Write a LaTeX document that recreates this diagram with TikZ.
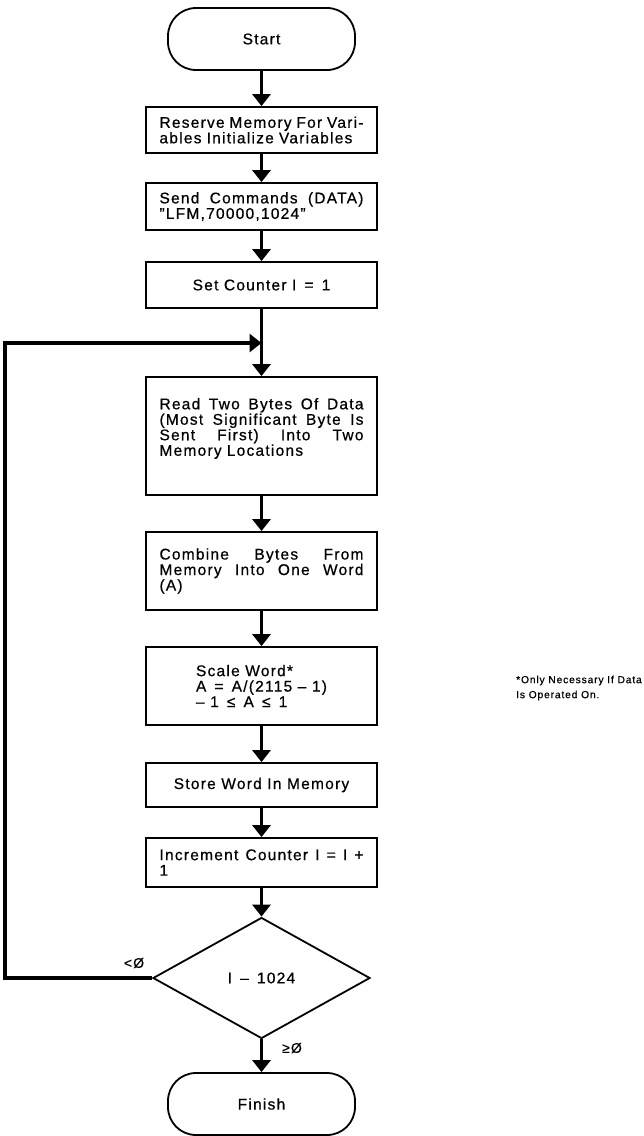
\documentclass[tikz,border=0pt]{standalone}
\usepackage{fontspec}
\setmainfont{Liberation Sans}[LetterSpace=8, FakeBold=0.6]
\usepackage{tikz}
\usetikzlibrary{arrows.meta, shapes.geometric}

% one stretched line of a justified box
\newcommand{\fullline}[1]{\makebox[204pt][s]{\spaceskip=0pt\xspaceskip=0pt #1}}

\begin{document}
\begin{tikzpicture}[x=1pt, y=-1pt,
    box/.style={draw, line width=1.8pt, minimum width=231pt, inner sep=0pt,
        font=\fontsize{15.5}{15.5}\selectfont},
    term/.style={draw, line width=1.8pt, rounded corners=28pt, minimum width=187pt,
        minimum height=62pt, font=\fontsize{15.5}{15.5}\selectfont},
    flow/.style={line width=3.8pt, -{Triangle[length=12pt, width=18pt]}},
    lbl/.style={font=\fontsize{14}{14}\selectfont, inner sep=0pt}]
    \useasboundingbox (0,0) rectangle (644,1136);

    % Terminals and boxes
    \node[term] (start) at (261.5,39) {Start};
    \node[box, minimum height=46pt, text width=204pt, align=left] (reserve) at (261.5,130)
        {\fullline{Reserve Memory For Vari-}\\ables Initialize Variables};
    \node[box, minimum height=47pt, text width=204pt, align=left] (send) at (261.5,206.5)
        {\fullline{Send Commands (DATA)}\\''LFM,70000,1024''};
    \node[box, minimum height=46pt] (setc) at (261.5,285) {Set Counter I \,=\, 1};
    \node[box, minimum height=118pt, text width=204pt, align=left] (readw) at (261.5,436)
        {\fullline{Read Two Bytes Of Data}\\\fullline{(Most Significant Byte Is}\\
         \fullline{Sent First) Into Two}\\Memory Locations\\\rule{0pt}{14pt}};
    \node[box, minimum height=78pt, text width=204pt, align=left] (combine) at (261.5,571)
        {\fullline{Combine Bytes From}\\\fullline{Memory Into One Word}\\(A)};
    \node[box, minimum height=78pt, align=left] (scale) at (261.5,686)
        {Scale Word*\\A \,=\, A/(2115 -- 1)\\-- 1 \,≤\, A \,≤\, 1};
    \node[box, minimum height=44pt] (store) at (261.5,785) {Store Word In Memory};
    \node[box, minimum height=49pt, text width=204pt, align=left] (incr) at (261.5,862.5)
        {\fullline{Increment Counter I = I +}\\1};
    \node[diamond, draw, line width=1.8pt, minimum width=217pt, minimum height=121pt,
        inner sep=0pt, font=\fontsize{15.5}{15.5}\selectfont] (test) at (261.5,978) {I \,--\, 1024};
    \node[term] (finish) at (261.5,1104) {Finish};

    % Footnote
    \node[anchor=west, align=left, inner sep=0pt, font=\fontsize{10.3}{15}\selectfont] (note) at (516,688)
        {*Only Necessary If Data\\Is Operated On.};

    % Main flow
    \draw[flow] (start.south) -- (reserve.north);
    \draw[flow] (reserve.south) -- (send.north);
    \draw[flow] (send.south) -- (setc.north);
    \draw[flow] (setc.south) -- (readw.north);
    \draw[flow] (readw.south) -- (combine.north);
    \draw[flow] (combine.south) -- (scale.north);
    \draw[flow] (scale.south) -- (store.north);
    \draw[flow] (store.south) -- (incr.north);
    \draw[flow] (incr.south) -- (test.north);
    \draw[flow] (test.south) -- (finish.north);

    % Loop back
    \coordinate (join) at (261.5,343);
    \draw[flow] (test.west) -- ++(-147,0) |- (join);
    \node[lbl] (lt) at (134,963) {<Ø};
    \node[lbl] (ge) at (292,1048) {≥Ø};
\end{tikzpicture}
\end{document}
